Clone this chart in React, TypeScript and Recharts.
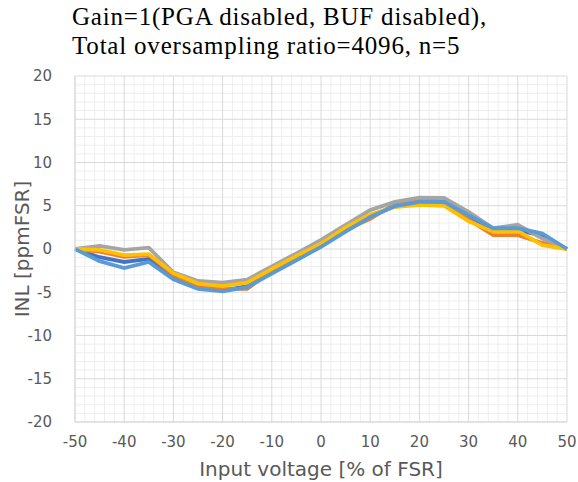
import { Line, LineChart, ReferenceLine, XAxis, YAxis } from "recharts";

const inputPct = [-50, -45, -40, -35, -30, -25, -20, -15, -10, -5, 0, 5, 10, 15, 20, 25, 30, 35, 40, 45, 50];

const run1 = [0, -0.95, -1.5, -1.15, -3.3, -4.5, -4.8, -4.3, -2.7, -1.2, 0.3, 2.1, 3.7, 5.0, 5.45, 5.4, 3.7, 2.2, 2.2, 1.5, 0];
const run2 = [0, -0.3, -0.9, -0.7, -3.0, -4.3, -4.6, -4.6, -2.5, -1.1, 0.4, 2.2, 3.5, 5.2, 5.65, 5.5, 3.4, 1.6, 1.6, 0.7, 0];
const run3 = [0, 0.35, -0.1, 0.15, -2.7, -3.7, -3.9, -3.55, -2.0, -0.5, 1.05, 2.8, 4.5, 5.45, 5.95, 5.9, 4.3, 2.4, 2.8, 1.2, 0];
const run4 = [0, -0.1, -0.7, -0.6, -2.8, -4.0, -4.3, -3.9, -2.3, -0.8, 0.6, 2.5, 4.0, 4.85, 5.1, 5.0, 3.2, 2.0, 2.1, 0.45, 0];
const run5 = [0, -1.4, -2.2, -1.5, -3.5, -4.6, -4.9, -4.4, -2.85, -1.3, 0.25, 2.0, 3.7, 4.95, 5.45, 5.45, 3.9, 2.4, 2.4, 1.8, 0];

const xTicks = [-50, -40, -30, -20, -10, 0, 10, 20, 30, 40, 50];
const yTicks = [-20, -15, -10, -5, 0, 5, 10, 15, 20];
const xMinor = [-48, -46, -44, -42, -38, -36, -34, -32, -28, -26, -24, -22, -18, -16, -14, -12, -8, -6, -4, -2, 2, 4, 6, 8, 12, 14, 16, 18, 22, 24, 26, 28, 32, 34, 36, 38, 42, 44, 46, 48];
const yMinor = [-19, -18, -17, -16, -14, -13, -12, -11, -9, -8, -7, -6, -4, -3, -2, -1, 1, 2, 3, 4, 6, 7, 8, 9, 11, 12, 13, 14, 16, 17, 18, 19];

const data = inputPct.map((x, i) => ({
  x,
  r1: run1[i],
  r2: run2[i],
  r3: run3[i],
  r4: run4[i],
  r5: run5[i],
}));

const series = [
  { key: "r1", color: "#4472C4" },
  { key: "r2", color: "#ED7D31" },
  { key: "r3", color: "#A5A5A5" },
  { key: "r4", color: "#FFC000" },
  { key: "r5", color: "#5B9BD5" },
];

const tickStyle = { fill: "#595959", fontSize: 15, fontFamily: "DejaVu Sans" };
const minorColor = "#eeeeee";
const majorColor = "#d9d9d9";

export default function App() {
  return (
    <div style={{ position: "absolute", left: 0, top: 0, width: 578, height: 482, background: "#fff" }}>
      <LineChart width={578} height={482} data={data} margin={{ top: 76, right: 11, bottom: 0, left: 0 }}>
        <XAxis
          dataKey="x"
          type="number"
          domain={[-50, 50]}
          ticks={xTicks}
          tick={tickStyle}
          tickLine={false}
          axisLine={{ stroke: majorColor }}
          tickMargin={8}
          height={60}
          label={{ value: "Input voltage [% of FSR]", position: "insideBottom", offset: 6, fill: "#595959", fontSize: 20, fontFamily: "DejaVu Sans" }}
        />
        <YAxis
          type="number"
          domain={[-20, 20]}
          ticks={yTicks}
          tick={tickStyle}
          tickLine={false}
          axisLine={{ stroke: majorColor }}
          tickMargin={17}
          width={75}
          label={{ value: "INL [ppmFSR]", angle: -90, position: "insideLeft", offset: 22, style: { textAnchor: "middle" }, fill: "#595959", fontSize: 20, fontFamily: "DejaVu Sans" }}
        />
        {xMinor.map((v) => (
          <ReferenceLine key={"xm" + v} x={v} stroke={minorColor} strokeWidth={1} />
        ))}
        {yMinor.map((v) => (
          <ReferenceLine key={"ym" + v} y={v} stroke={minorColor} strokeWidth={1} />
        ))}
        {xTicks.map((v) => (
          <ReferenceLine key={"xM" + v} x={v} stroke={majorColor} strokeWidth={1} />
        ))}
        {yTicks.map((v) => (
          <ReferenceLine key={"yM" + v} y={v} stroke={majorColor} strokeWidth={1} />
        ))}
        {series.map((s) => (
          <Line
            key={s.key}
            type="linear"
            dataKey={s.key}
            stroke={s.color}
            strokeWidth={3.8}
            dot={false}
            isAnimationActive={false}
          />
        ))}
      </LineChart>
      <div
        style={{
          position: "absolute",
          left: 72,
          top: 2,
          fontFamily: "'Liberation Serif', serif",
          fontSize: 25,
          lineHeight: "29px",
          letterSpacing: 0.8,
          color: "#000",
          whiteSpace: "nowrap",
        }}
      >
        <div>Gain=1(PGA disabled, BUF disabled),</div>
        <div>Total oversampling ratio=4096, n=5</div>
      </div>
    </div>
  );
}
